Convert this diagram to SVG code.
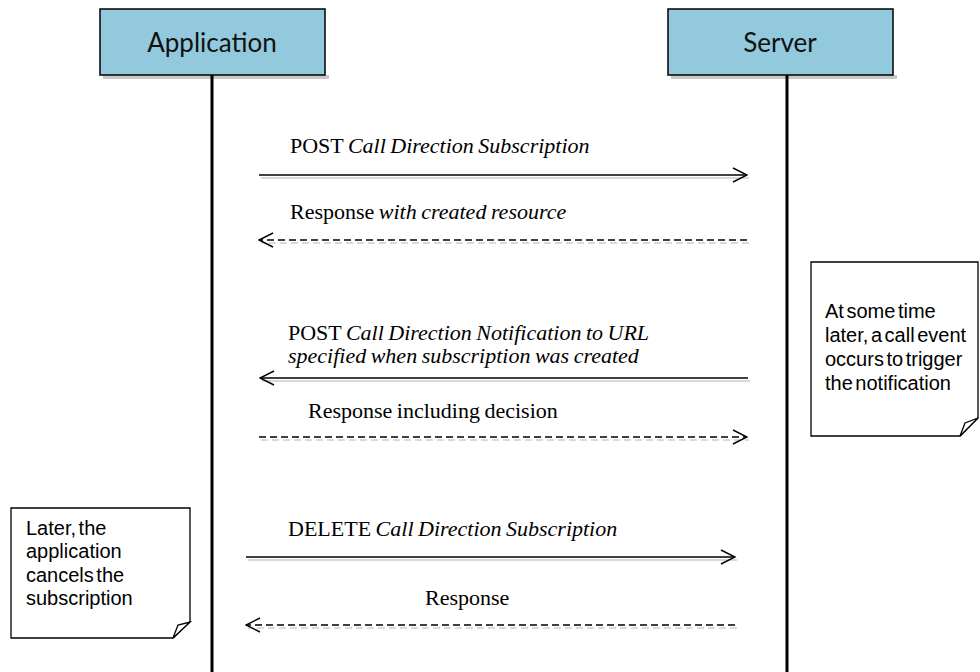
<svg xmlns="http://www.w3.org/2000/svg" width="980" height="672" viewBox="0 0 980 672">
<style>
.box{fill:#92c9dc;stroke:#000;stroke-width:1.5}
.shadow{fill:#c8c8c8}
.life{stroke:#000;stroke-width:3}
.lbl{font-family:Lato,"Liberation Sans",sans-serif;font-size:26px;fill:#111;text-anchor:middle}
.msg{font-family:"Liberation Serif","Times New Roman",serif;font-size:22px;fill:#000;word-spacing:-1px}
.it{font-style:italic}
.sol{stroke:#000;stroke-width:1.4;fill:none}
.dash{stroke:#000;stroke-width:1.4;fill:none;stroke-dasharray:7 4}
.sh{stroke:#dadada;stroke-width:2;fill:none}
.shd{stroke:#dadada;stroke-width:2;fill:none;stroke-dasharray:7 4}
.note{fill:#fff;stroke:#000;stroke-width:1.3}
.ntxt{font-family:"Liberation Sans",Arial,sans-serif;font-size:20px;fill:#000;word-spacing:-3px}
</style>
<defs>
<marker id="ah" viewBox="0 0 16 16" refX="15" refY="8" markerWidth="16" markerHeight="16" markerUnits="userSpaceOnUse" orient="auto">
<path d="M1,1 L15,8 L1,15" fill="none" stroke="#000" stroke-width="1.4"/>
</marker>
</defs>

<g id="application">
<rect class="shadow" x="103" y="75" width="226" height="4"/>
<rect class="box" x="100" y="9" width="225" height="66"/>
<text class="lbl" x="212" y="52">Application</text>
<line class="life" x1="212" y1="75" x2="212" y2="672"/>
</g>

<g id="server">
<rect class="shadow" x="671" y="75" width="226" height="4"/>
<rect class="box" x="668" y="9" width="225" height="66"/>
<text class="lbl" x="780" y="52">Server</text>
<line class="life" x1="787" y1="75" x2="787" y2="672"/>
</g>

<g id="connectors">
<line class="sh" x1="261" y1="178" x2="749" y2="178"/>
<line class="sol" x1="259" y1="175" x2="747" y2="175" marker-end="url(#ah)"/>
<line class="shd" x1="749" y1="243" x2="261" y2="243"/>
<line class="dash" x1="747" y1="240" x2="259" y2="240" marker-end="url(#ah)"/>
<line class="sh" x1="750" y1="381" x2="262" y2="381"/>
<line class="sol" x1="748" y1="378" x2="260" y2="378" marker-end="url(#ah)"/>
<line class="shd" x1="261" y1="440" x2="749" y2="440"/>
<line class="dash" x1="259" y1="437" x2="747" y2="437" marker-end="url(#ah)"/>
<line class="sh" x1="248" y1="560" x2="737" y2="560"/>
<line class="sol" x1="246" y1="557" x2="735" y2="557" marker-end="url(#ah)"/>
<line class="shd" x1="737" y1="628" x2="248" y2="628"/>
<line class="dash" x1="735" y1="625" x2="246" y2="625" marker-end="url(#ah)"/>
</g>

<g id="labels">
<text class="msg" x="290" y="153">POST <tspan class="it">Call Direction Subscription</tspan></text>
<text class="msg" x="290" y="219">Response <tspan class="it">with created resource</tspan></text>
<text class="msg" x="288" y="340">POST <tspan class="it">Call Direction Notification to URL</tspan></text>
<text class="msg it" x="288" y="363">specified when subscription was created</text>
<text class="msg" x="308" y="418">Response including decision</text>
<text class="msg" x="288" y="536">DELETE <tspan class="it">Call Direction Subscription</tspan></text>
<text class="msg" x="425" y="605">Response</text>
</g>

<g id="note-server">
<path class="note" d="M811,262 H978 V418 L960,436 H811 Z"/>
<path class="note" d="M960,436 L965,423 L978,418 Z"/>
<text class="ntxt" x="825" y="318">At some time</text>
<text class="ntxt" x="825" y="342">later, a call event</text>
<text class="ntxt" x="825" y="366">occurs to trigger</text>
<text class="ntxt" x="825" y="390">the notification</text>
</g>

<g id="note-app">
<path class="note" d="M11,508 H190 V622 L173,638 H11 Z"/>
<path class="note" d="M173,638 L178,625 L190,622 Z"/>
<text class="ntxt" x="26" y="535">Later, the</text>
<text class="ntxt" x="26" y="558">application</text>
<text class="ntxt" x="26" y="582">cancels the</text>
<text class="ntxt" x="26" y="605">subscription</text>
</g>
</svg>
